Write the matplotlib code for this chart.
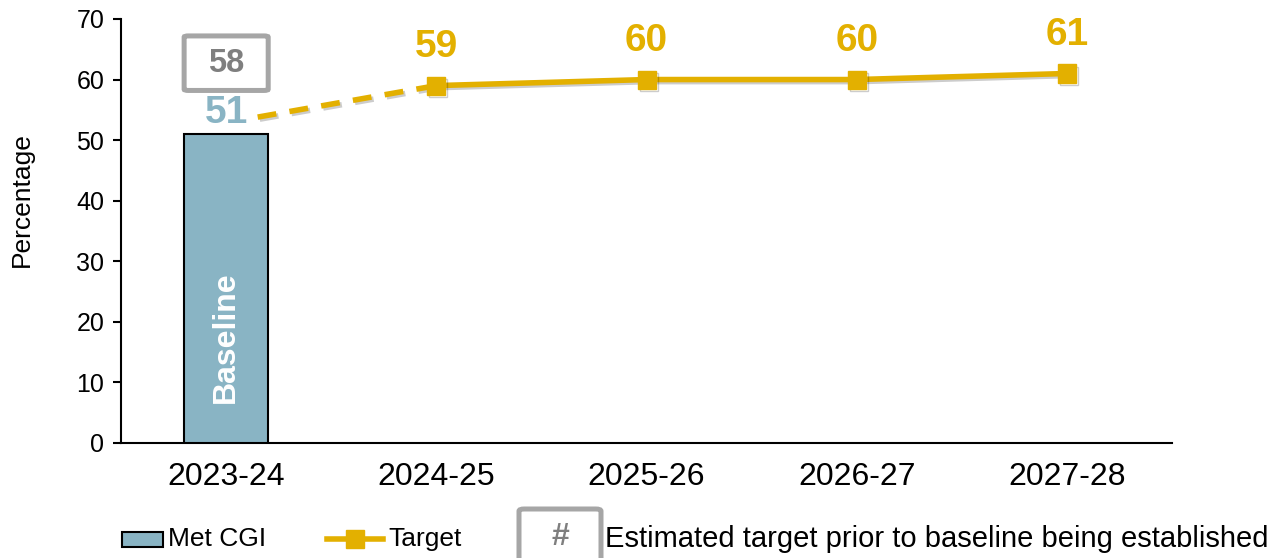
import matplotlib
matplotlib.use("Agg")
import matplotlib.pyplot as plt
import matplotlib.patheffects as pe
from matplotlib.patches import Rectangle, FancyBboxPatch
from matplotlib.lines import Line2D

plt.rcParams["font.family"] = ["Liberation Sans", "DejaVu Sans"]

years = ["2023-24", "2024-25", "2025-26", "2026-27", "2027-28"]
met_cgi = [51]
target_years = [1, 2, 3, 4]
target = [59, 60, 60, 61]
estimated_target = 58

bar_color = "#89B4C4"
gold = "#E3B000"
grey = "#A6A6A6"

fig = plt.figure(figsize=(12.73, 5.58), dpi=100)
ax = fig.add_axes([0.0951, 0.2061, 0.8256, 0.7599])

# baseline bar
ax.bar([0], met_cgi, width=0.4, color=bar_color, edgecolor="black", linewidth=1.5, zorder=3)
ax.text(0, 17.5, "Baseline", rotation=90, color="white", fontsize=23, fontweight="bold",
        ha="center", va="center", zorder=4)
ax.annotate(str(met_cgi[0]), (0, met_cgi[0]), xytext=(0, 15), textcoords="offset points",
            ha="center", va="center", fontsize=28, fontweight="bold", color=bar_color)

shadow = [pe.SimpleLineShadow(offset=(1.5, -1.5), alpha=0.2), pe.Normal()]

# dashed link from baseline to first target
ax.plot([0.15, target_years[0]], [53.8, target[0]], color=gold, lw=4,
        linestyle=(0, (3.4, 2.4)), path_effects=shadow, zorder=4)

# target line
ax.plot(target_years, target, color=gold, lw=4, marker="s", markersize=13,
        path_effects=shadow, zorder=5)
for x, v in zip(target_years, target):
    ax.annotate(str(v), (x, v), xytext=(0, 28), textcoords="offset points",
                ha="center", va="center", fontsize=28, fontweight="bold", color=gold)

# estimated target box
box = FancyBboxPatch((-0.2, 58.2), 0.4, 9.0, boxstyle="round,pad=0,rounding_size=0.02",
                     facecolor="white", edgecolor=grey, linewidth=3.6, zorder=4,
                     mutation_aspect=10)
ax.add_patch(box)
ax.text(0, 62.7, str(estimated_target), ha="center", va="center", fontsize=23.5,
        fontweight="bold", color="#7F7F7F", zorder=5)

ax.set_xlim(-0.5, 4.5)
ax.set_ylim(0, 70)
ax.set_xticks(range(len(years)))
ax.set_xticklabels(years, fontsize=23)
ax.tick_params(axis="x", length=0, pad=14)
ax.set_yticks(range(0, 71, 10))
ax.tick_params(axis="y", labelsize=18, length=6, width=1.5, direction="out", pad=6)
ax.set_ylabel("Percentage", fontsize=19)
ax.yaxis.set_label_coords(-0.083, 0.575)
for s in ["top", "right"]:
    ax.spines[s].set_visible(False)
for s in ["left", "bottom"]:
    ax.spines[s].set_linewidth(1.5)

# legend drawn by hand
W, H = 1273.0, 558.0
fig.patches.append(Rectangle((122 / W, 1 - 547 / H), 41 / W, 15 / H, transform=fig.transFigure,
                             facecolor=bar_color, edgecolor="black", linewidth=1.5))
fig.text(168 / W, 1 - 539 / H, "Met CGI", fontsize=19, va="center", ha="left")
fig.lines.append(Line2D([327 / W, 383 / W], [1 - 539 / H, 1 - 539 / H], transform=fig.transFigure,
                        color=gold, lw=4))
fig.lines.append(Line2D([355 / W], [1 - 539 / H], transform=fig.transFigure, color=gold,
                        marker="s", markersize=13))
fig.text(388 / W, 1 - 539 / H, "Target", fontsize=19, va="center", ha="left")
fig.patches.append(FancyBboxPatch((519 / W, -0.05), 82 / W, (1 - 509 / H) + 0.05,
                                  boxstyle="round,pad=0,rounding_size=0.004",
                                  transform=fig.transFigure, facecolor="white",
                                  edgecolor=grey, linewidth=3.6))
fig.text(560 / W, 1 - 537 / H, "#", fontsize=23, fontweight="bold", color="#7F7F7F",
         va="center", ha="center")
fig.text(605 / W, 1 - 539 / H, "Estimated target prior to baseline being established",
         fontsize=21, va="center", ha="left")

fig.savefig("out.png", dpi=100)
